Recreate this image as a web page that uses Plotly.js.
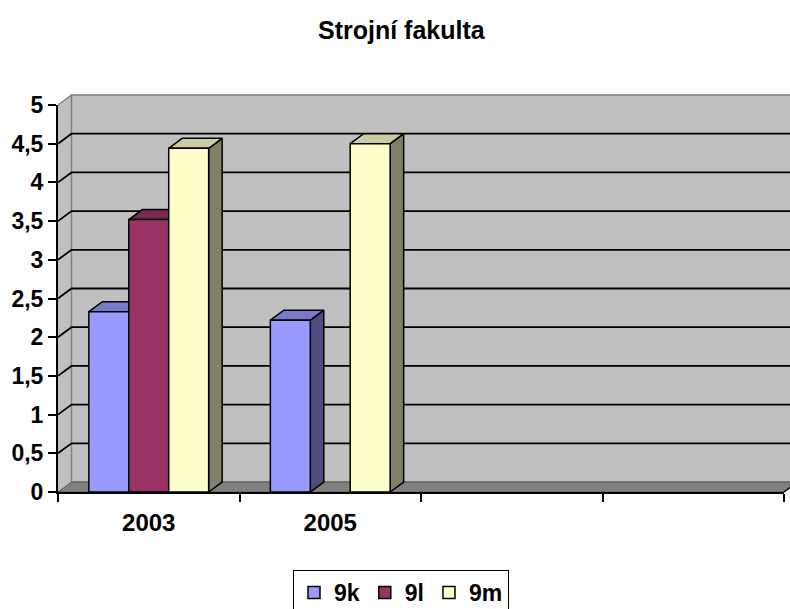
<!DOCTYPE html>
<html>
<head>
<meta charset="utf-8">
<script src="https://cdn.plot.ly/plotly-3.0.1.min.js"></script>
<style>
  html, body { margin: 0; padding: 0; background: #ffffff; }
  #chart { width: 790px; height: 609px; }
</style>
</head>
<body>
<div id="chart"></div>
<script>
// ---- data ----
const categories = ['2003', '2005', '', ''];
const seriesNames = ['9k', '9l', '9m'];
const values9k = [2.33, 2.22, null, null];
const values9l = [3.52, null, null, null];
const values9m = [4.44, 4.5, null, null];
const yTickValues = [0, 0.5, 1, 1.5, 2, 2.5, 3, 3.5, 4, 4.5, 5];
const titleText = 'Strojní fakulta';

// ---- styles ----
const frontColors = ['#9999FF', '#993366', '#FFFFCC'];
const topColors   = ['#7A7ACC', '#7A2952', '#CCCCA3'];
const sideColors  = ['#4D4D80', '#4D1A33', '#808066'];
const FONT = 'Arial, "Liberation Sans", Helvetica, sans-serif';

// geometry (styling of the pseudo-3D look)
const XMIN = -0.5, XMAX = categories.length - 0.5;
const YMIN = 0, YMAX = 5;
const BAR_W = 0.22;
const GROUP_OFF = -1.5 * BAR_W;
const DEPTH_X = 0.0744;   // depth shift in category units
const DEPTH_Y = 0.129;    // depth shift in value units

const allSeries = [values9k, values9l, values9m];
const xIdx = categories.map((c, i) => i);

const px = x => (x - XMIN) / (XMAX - XMIN);
const py = y => (y - YMIN) / (YMAX - YMIN);

// ---- 3D faces (drawn beneath the front faces) ----
const traces = [];
allSeries.forEach((vals, s) => {
  vals.forEach((v, j) => {
    if (v === null || v === undefined) return;
    const xl = j + GROUP_OFF + s * BAR_W;
    const xr = xl + BAR_W;
    // side face
    traces.push({
      type: 'scatter', mode: 'lines', xaxis: 'x', yaxis: 'y',
      x: [xr, xr + DEPTH_X, xr + DEPTH_X, xr, xr],
      y: [0, DEPTH_Y, v + DEPTH_Y, v, 0],
      fill: 'toself', fillcolor: sideColors[s],
      line: { color: '#000000', width: 1.5 },
      hoverinfo: 'skip', showlegend: false
    });
    // top face
    traces.push({
      type: 'scatter', mode: 'lines', xaxis: 'x', yaxis: 'y',
      x: [xl, xl + DEPTH_X, xr + DEPTH_X, xr, xl],
      y: [v, v + DEPTH_Y, v + DEPTH_Y, v, v],
      fill: 'toself', fillcolor: topColors[s],
      line: { color: '#000000', width: 1.5 },
      hoverinfo: 'skip', showlegend: false
    });
  });
});

// ---- front faces as bars (overlay subplot so they sit above the faces) ----
allSeries.forEach((vals, s) => {
  traces.push({
    type: 'bar', name: seriesNames[s],
    x: xIdx, y: vals,
    xaxis: 'x2', yaxis: 'y2',
    width: BAR_W, offset: GROUP_OFF + s * BAR_W,
    marker: { color: frontColors[s], line: { color: '#000000', width: 1.5 } }
  });
});

// ---- walls, floor, gridlines (paper coordinates) ----
const shapes = [];
// left side wall
shapes.push({
  type: 'path', xref: 'paper', yref: 'paper', layer: 'below',
  path: `M${px(XMIN)},${py(0)} L${px(XMIN + DEPTH_X)},${py(DEPTH_Y)} L${px(XMIN + DEPTH_X)},${py(YMAX + DEPTH_Y)} L${px(XMIN)},${py(YMAX)} Z`,
  fillcolor: '#C0C0C0', line: { width: 0 }
});
// back wall
shapes.push({
  type: 'rect', xref: 'paper', yref: 'paper', layer: 'below',
  x0: px(XMIN + DEPTH_X), x1: 1.3, y0: py(DEPTH_Y), y1: py(YMAX + DEPTH_Y),
  fillcolor: '#C0C0C0', line: { color: '#808080', width: 1.5 }
});
// floor
shapes.push({
  type: 'path', xref: 'paper', yref: 'paper', layer: 'below',
  path: `M${px(XMIN)},${py(0)} L${px(XMAX)},${py(0)} L${px(XMAX + DEPTH_X)},${py(DEPTH_Y)} L${px(XMIN + DEPTH_X)},${py(DEPTH_Y)} Z`,
  fillcolor: '#808080', line: { color: '#5A5A5A', width: 1 }
});
// gridlines on side wall + back wall
yTickValues.forEach(v => {
  if (v === 0) return;
  const isTop = v === YMAX;
  shapes.push({
    type: 'path', xref: 'paper', yref: 'paper', layer: 'below',
    path: `M${px(XMIN)},${py(v)} L${px(XMIN + DEPTH_X)},${py(v + DEPTH_Y)}` + (isTop ? '' : ` L1.3,${py(v + DEPTH_Y)}`),
    line: { color: isTop ? '#808080' : '#000000', width: isTop ? 1.5 : 1.8 }
  });
});
// floor right edge
shapes.push({
  type: 'line', xref: 'paper', yref: 'paper', layer: 'below',
  x0: px(XMAX), y0: py(0), x1: px(XMAX + DEPTH_X), y1: py(DEPTH_Y),
  line: { color: '#000000', width: 1.5 }
});

const boundaryTicks = categories.map((c, i) => i - 0.5).concat([categories.length - 0.5]);

const layout = {
  width: 790, height: 609,
  margin: { l: 58, r: 6, t: 105, b: 117, autoexpand: false },
  paper_bgcolor: '#FFFFFF',
  plot_bgcolor: 'rgba(0,0,0,0)',
  separators: ', ',
  font: { family: FONT, color: '#000000' },
  barmode: 'overlay',
  title: {
    text: titleText,
    font: { family: FONT, size: 25, weight: 'bold', color: '#000000' },
    xref: 'container', x: 0.508, xanchor: 'center',
    yref: 'container', y: 0.951, yanchor: 'middle'
  },
  xaxis: {
    type: 'linear', range: [XMIN, XMAX], fixedrange: true,
    showgrid: false, zeroline: false,
    showline: true, linecolor: '#000000', linewidth: 2,
    tickmode: 'array', tickvals: boundaryTicks,
    ticks: 'outside', ticklen: 8, tickwidth: 2, tickcolor: '#000000',
    showticklabels: false
  },
  xaxis2: {
    type: 'linear', range: [XMIN, XMAX], overlaying: 'x', anchor: 'y2', side: 'bottom',
    showgrid: false, zeroline: false, showline: false, ticks: '',
    tickmode: 'array', tickvals: xIdx, ticktext: categories,
    ticklabelstandoff: 14,
    tickfont: { family: FONT, size: 24, weight: 'bold', color: '#000000' }
  },
  yaxis: {
    type: 'linear', range: [YMIN, YMAX], fixedrange: true,
    showgrid: false, zeroline: false,
    showline: true, linecolor: '#000000', linewidth: 2,
    tickmode: 'array', tickvals: yTickValues,
    ticks: 'outside', ticklen: 8, tickwidth: 2, tickcolor: '#000000',
    tickfont: { family: FONT, size: 23, weight: 'bold', color: '#000000' }
  },
  yaxis2: {
    type: 'linear', range: [YMIN, YMAX], overlaying: 'y', anchor: 'x2',
    visible: false
  },
  shapes: shapes,
  showlegend: true,
  legend: {
    orientation: 'h',
    x: (401 - 58) / 726, xanchor: 'center',
    y: (492 - 570) / 387, yanchor: 'top',
    bgcolor: '#FFFFFF', bordercolor: '#000000', borderwidth: 1,
    font: { family: FONT, size: 23, weight: 'bold', color: '#000000' },
    traceorder: 'normal'
  }
};

Plotly.newPlot('chart', traces, layout, { displayModeBar: false, staticPlot: true });
</script>
</body>
</html>
